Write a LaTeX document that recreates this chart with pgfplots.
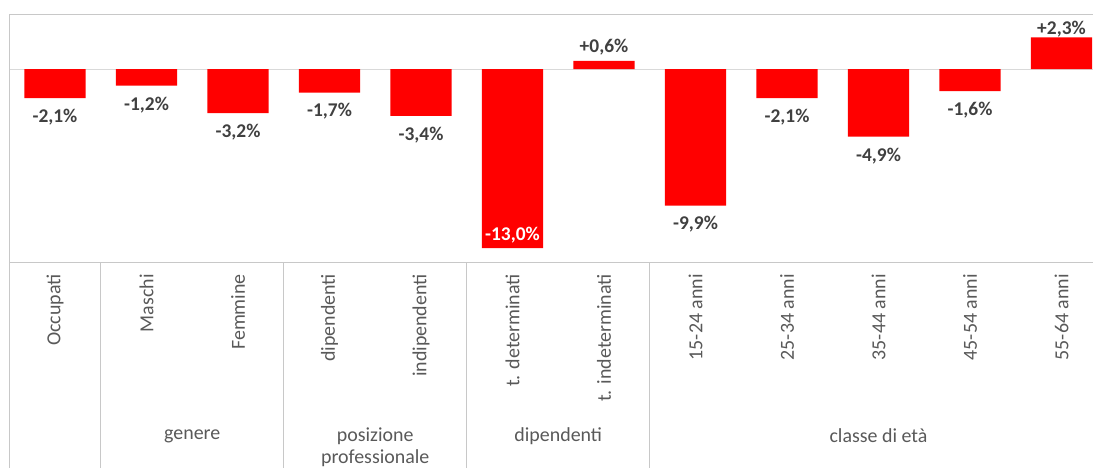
\documentclass[border=0pt]{standalone}
\usepackage{fontspec}
\setmainfont{Carlito}
\usepackage{pgfplots}
\usepackage{pgfplotstable}
\pgfplotsset{compat=1.18}
\definecolor{barred}{RGB}{255,0,0}
\definecolor{lbl}{RGB}{64,64,64}
\definecolor{cat}{RGB}{89,89,89}
\definecolor{frame}{RGB}{200,200,200}
\definecolor{zero}{RGB}{217,217,217}
\pgfplotstableread{
x y
0 -2.1
1 -1.2
2 -3.2
3 -1.7
4 -3.4
5 -13.0
6 0.6
7 -9.9
8 -2.1
9 -4.9
10 -1.6
11 2.3
}\bars
\pgfplotstableread{
x y
0 -2.1
1 -1.2
2 -3.2
3 -1.7
4 -3.4
7 -9.9
8 -2.1
9 -4.9
10 -1.6
}\neglabels
\begin{document}
\begin{tikzpicture}
\useasboundingbox (0,0) rectangle (1093bp,468bp);
\clip (0,0) rectangle (1093bp,468bp);
\begin{axis}[
  at={(9.25bp,206bp)}, anchor=south west,
  scale only axis, width=1098bp, height=248bp,
  xmin=-0.5, xmax=11.5, ymin=-14, ymax=4,
  axis line style={draw=frame, line width=0.8bp},
  ytick={0}, yticklabels={}, ymajorgrids,
  major grid style={draw=zero, line width=0.8bp},
  xtick={0,...,11},
  xticklabels={Occupati, Maschi, Femmine, dipendenti, indipendenti, t. determinati, t. indeterminati, 15-24 anni, 25-34 anni, 35-44 anni, 45-54 anni, 55-64 anni},
  major tick length=0,
  xticklabel style={font=\fontsize{20}{24}\selectfont, text=cat, yshift=-12bp, rotate=90, anchor=east, inner sep=0pt},
  clip=false,
  /pgf/number format/.cd, fixed, fixed zerofill, precision=1, use comma, assume math mode=true,
]
\addplot[ybar, bar width=0.667, fill=barred, draw=none] table[x=x, y=y] {\bars};
% labels below negative bars
\addplot[draw=none, mark=none, point meta=y,
  nodes near coords={\pgfmathprintnumber{\pgfplotspointmeta}\%},
  every node near coord/.style={anchor=north, yshift=-7.5bp, font=\bfseries\fontsize{19.5}{23}\selectfont, text=lbl}]
  table[x=x, y=y] {\neglabels};
% label inside the largest bar
\addplot[draw=none, mark=none, point meta=y,
  nodes near coords={\pgfmathprintnumber{\pgfplotspointmeta}\%},
  every node near coord/.style={anchor=south, yshift=1.5bp, font=\bfseries\fontsize{19.5}{23}\selectfont, text=white}]
  coordinates {(5,-13.0)};
% positive labels
\addplot[draw=none, mark=none, point meta=y,
  nodes near coords={+\pgfmathprintnumber{\pgfplotspointmeta}\%},
  every node near coord/.style={anchor=south, yshift=2.5bp, font=\bfseries\fontsize{19.5}{23}\selectfont, text=lbl}]
  coordinates {(6,0.6)};
\addplot[draw=none, mark=none, point meta=y,
  nodes near coords={+\pgfmathprintnumber{\pgfplotspointmeta}\%},
  every node near coord/.style={anchor=south, yshift=-3bp, font=\bfseries\fontsize{19.5}{23}\selectfont, text=lbl}]
  coordinates {(11,2.3)};
% separators in the category area
\pgfplotsinvokeforeach{-0.5,0.5,2.5,4.5,6.5}{
  \draw[frame, line width=0.8bp] (axis cs:#1,-14) -- (axis cs:#1,-31);
}
% group labels
\node[font=\fontsize{20}{22}\selectfont, text=cat] at (axis cs:1.5,-26.63) {genere};
\node[font=\fontsize{20}{22}\selectfont, text=cat, align=center] at (axis cs:3.5,-27.43) {posizione\\professionale};
\node[font=\fontsize{20}{22}\selectfont, text=cat] at (axis cs:5.5,-26.63) {dipendenti};
\node[font=\fontsize{20}{22}\selectfont, text=cat] at (axis cs:9,-26.63) {classe di età};
\end{axis}
\end{tikzpicture}
\end{document}
